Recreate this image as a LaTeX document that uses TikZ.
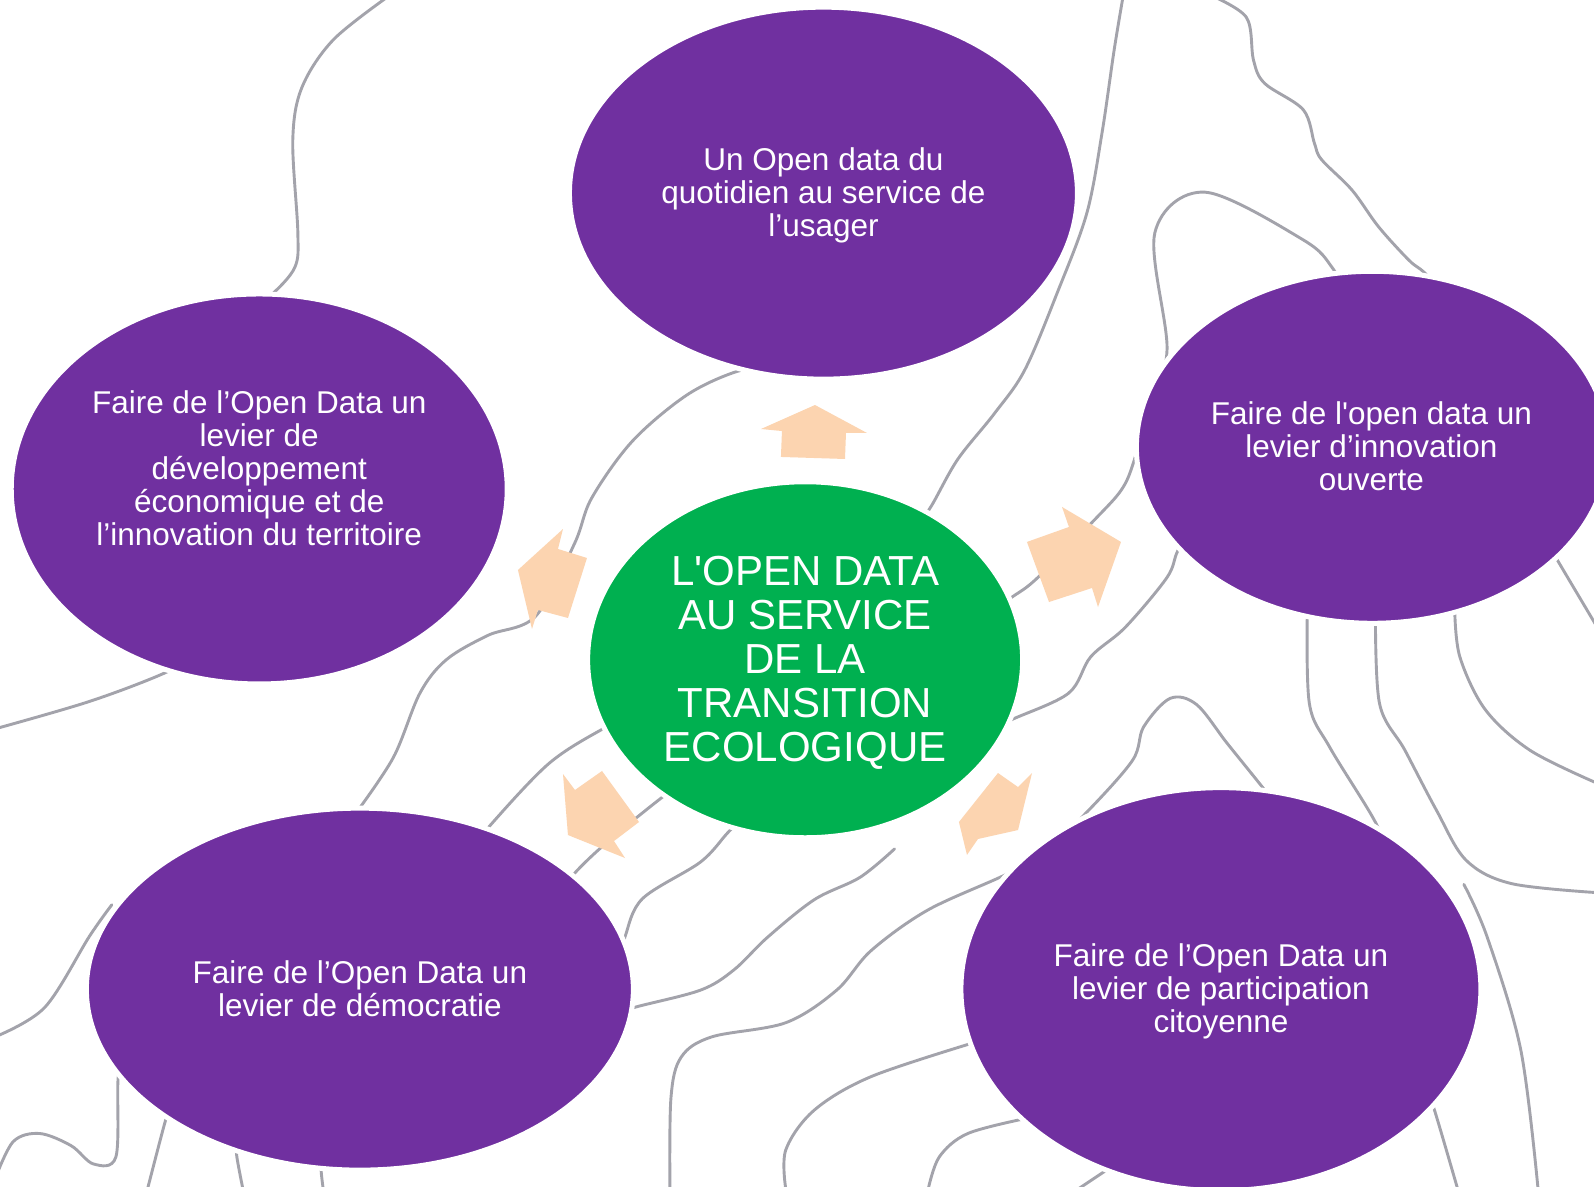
\documentclass[tikz,border=0pt]{standalone}
\usepackage{fontspec}
\newfontfamily\arialf{Liberation Sans}
\usetikzlibrary{shapes.geometric}
\definecolor{violet1}{HTML}{7030A0}
\definecolor{vert1}{HTML}{00B050}
\definecolor{peche}{HTML}{FCD4B0}
\definecolor{contour}{HTML}{A3A3AB}
\begin{document}
\begin{tikzpicture}[x=1.0166pt,y=-1.0166pt,
  bulle/.style={ellipse, fill=violet1, draw=white, line width=5pt, inner sep=0pt, outer sep=0pt},
  centre/.style={bulle, fill=vert1},
  texte/.style={text=white, align=center, font=\arialf\fontsize{31.5}{33}\selectfont, inner sep=0pt},
  textecentre/.style={text=white, align=center, font=\arialf\fontsize{42}{44}\selectfont, inner sep=0pt},
  fleche/.style={fill=peche, draw=none},
  courbe/.style={draw=contour, line width=2.9pt, line cap=round, line join=round}
]
\useasboundingbox (0,0) rectangle (1568,1167);
\clip (0,0) rectangle (1568,1167);
\fill[white] (0,0) rectangle (1568,1167);

% background contour lines
\begin{scope}[courbe]
\draw plot[smooth, tension=0.55] coordinates {(384,-5) (328,39) (297,86) (288,138) (293,229) (290,263) (267,290) (250,300)};
\draw plot[smooth, tension=0.55] coordinates {(1105,-5) (1096,49) (1084,131) (1069,210) (1040,288) (1008,364) (978,407) (942,452) (916,498) (900,520)};
\draw plot[smooth, tension=0.55] coordinates {(1190,-5) (1226,17) (1233,59) (1244,82) (1282,108) (1293,141) (1300,157) (1330,187) (1356,223) (1386,256) (1401,268) (1420,290)};
\draw plot[smooth, tension=0.55] coordinates {(960,610) (996,587) (1021,568) (1077,511) (1103,482) (1115,455) (1130,400) (1148,344) (1136,229) (1185,189) (1282,236) (1311,264) (1330,300)};
\draw plot[smooth, tension=0.55] coordinates {(960,725) (995,708) (1051,682) (1073,646) (1107,617) (1148,568) (1159,541) (1180,510)};
\draw plot[smooth, tension=0.55] coordinates {(1270,810) (1240,772) (1207,731) (1177,693) (1151,687) (1125,715) (1114,748) (1069,799) (1030,835) (992,859) (913,895) (857,935) (823,974) (773,1006) (700,1020) (670,1040) (660,1080) (659,1170)};
\draw plot[smooth, tension=0.55] coordinates {(735,800) (716,819) (689,848) (632,884) (615,921) (608,950)};
\draw plot[smooth, tension=0.55] coordinates {(600,1000) (624,991) (689,974) (722,954) (755,922) (801,885) (846,863) (880,835)};
\draw plot[smooth, tension=0.55] coordinates {(960,1025) (857,1059) (801,1092) (773,1131) (773,1170)};
\draw plot[smooth, tension=0.55] coordinates {(1010,1100) (952,1115) (924,1138) (913,1170)};
\draw plot[smooth, tension=0.55] coordinates {(1090,1150) (1060,1170)};
\draw plot[smooth, tension=0.55] coordinates {(1286,600) (1288,692) (1308,735) (1352,807) (1370,850)};
\draw plot[smooth, tension=0.55] coordinates {(1353,600) (1357,692) (1382,738) (1413,797) (1442,846) (1486,869) (1570,878)};
\draw plot[smooth, tension=0.55] coordinates {(1431,600) (1436,646) (1461,698) (1505,738) (1570,770)};
\draw plot[smooth, tension=0.55] coordinates {(1520,530) (1532,551) (1570,615)};
\draw plot[smooth, tension=0.55] coordinates {(1440,870) (1463,922) (1496,1033) (1513,1170)};
\draw plot[smooth, tension=0.55] coordinates {(1400,1060) (1412,1095) (1434,1170)};
\draw plot[smooth, tension=0.55] coordinates {(-5,717) (88,690) (162,662) (200,640)};
\draw plot[smooth, tension=0.55] coordinates {(350,800) (387,745) (413,682) (439,649) (480,625) (527,606) (565,535) (582,490) (622,434) (675,389) (723,366) (760,360)};
\draw plot[smooth, tension=0.55] coordinates {(470,830) (483,811) (540,751) (593,717) (630,700)};
\draw plot[smooth, tension=0.55] coordinates {(540,890) (568,856) (600,826) (639,794) (670,770)};
\draw plot[smooth, tension=0.55] coordinates {(-5,1020) (44,991) (88,921) (110,890)};
\draw plot[smooth, tension=0.55] coordinates {(-5,1160) (13,1123) (39,1115) (70,1127) (92,1145) (114,1138) (116,1064) (120,1030)};
\draw plot[smooth, tension=0.55] coordinates {(170,1080) (162,1105) (145,1170)};
\draw plot[smooth, tension=0.55] coordinates {(232,1120) (233,1138) (239,1170)};
\draw plot[smooth, tension=0.55] coordinates {(315,1130) (316,1153) (318,1170)};
\end{scope}

% bubbles
\node[bulle, minimum width=508pt, minimum height=372pt] (ntop) at (810,190) {};
\node[bulle, minimum width=496pt, minimum height=390pt] (nleft) at (255,481) {};
\node[bulle, minimum width=472pt, minimum height=352pt] (nright) at (1350,440) {};
\node[bulle, minimum width=547pt, minimum height=362pt] (nbl) at (354,973) {};
\node[bulle, minimum width=520pt, minimum height=403pt] (nbr) at (1201,973) {};
\node[centre, minimum width=435pt, minimum height=356pt] (ncenter) at (792,649) {};

% block arrows
\fill[fleche] (748.6,422) -- (801.7,398.4) -- (852.8,425.9) -- (832.2,425.9) -- (831.2,451.5) -- (768.2,449.5) -- (769.2,424) -- cycle;
\fill[fleche] (1010.2,533.1) -- (1051.5,518.4) -- (1044.7,498.7) -- (1102.7,533.1) -- (1080.1,597.1) -- (1074.2,578.4) -- (1031.9,592.2) -- cycle;
\fill[fleche] (553.8,520.4) -- (548.9,540) -- (577.4,548.9) -- (558.7,607.9) -- (529.2,600) -- (523.3,618.7) -- (509.5,560.7) -- cycle;
\fill[fleche] (553.8,761.4) -- (565.6,777.1) -- (592.2,758.4) -- (628.6,808.6) -- (604,827.3) -- (614.8,844) -- (558.7,821.4) -- cycle;
\fill[fleche] (981.7,760.4) -- (1001.4,774.2) -- (1015.2,760.4) -- (1001.4,816.5) -- (962,825.3) -- (951.2,841) -- (943.3,808.6) -- cycle;

% texts
\node[texte] (ttop) at (810,192) {Un Open data du\\quotidien au service de\\l’usager};
\node[texte] (tleft) at (255,460.5) {Faire de l’Open Data un\\levier de\\développement\\économique et de\\l’innovation du territoire};
\node[texte] (tright) at (1349,439) {Faire de l'open data un\\levier d’innovation\\ouverte};
\node[texte] (tbl) at (354,973) {Faire de l’Open Data un\\levier de démocratie};
\node[texte] (tbr) at (1201,975) {Faire de l’Open Data un\\levier de participation\\citoyenne};
\node[textecentre] (tcenter) at (792,652) {L'OPEN DATA\\AU SERVICE\\DE LA\\TRANSITION\\ECOLOGIQUE};
\end{tikzpicture}
\end{document}
